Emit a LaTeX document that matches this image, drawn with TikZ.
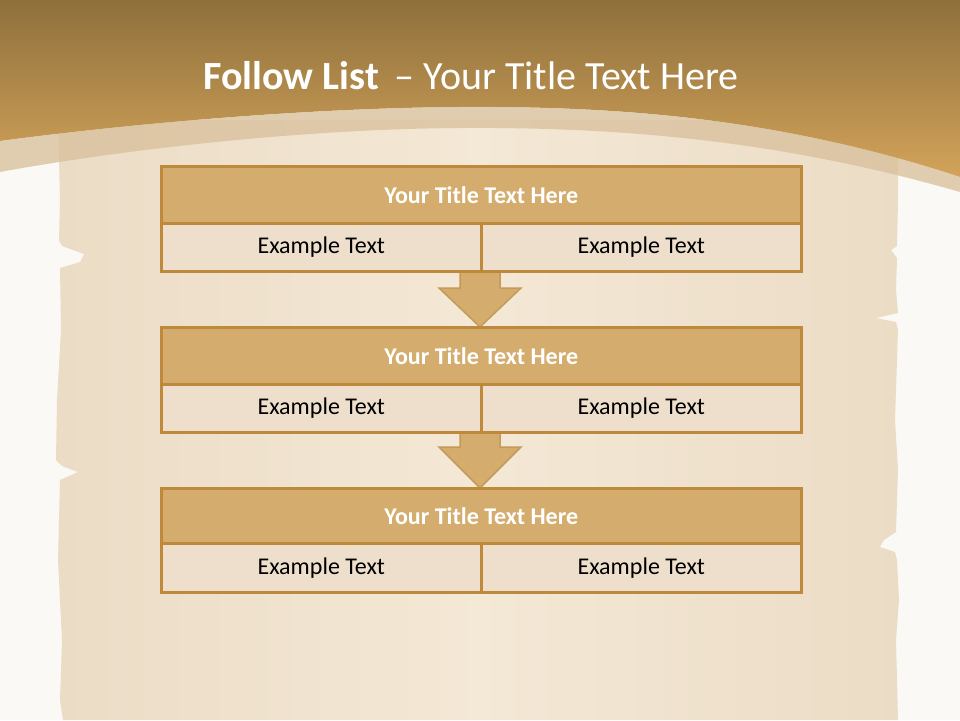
\documentclass[tikz,border=0pt]{standalone}
\usepackage{fontspec}
\setmainfont{Carlito}
\definecolor{bgw}{HTML}{FBF9F5}
\definecolor{parL}{HTML}{EBDCC5}
\definecolor{parM}{HTML}{F4E8D6}
\definecolor{goldT}{HTML}{8E703C}
\definecolor{goldB}{HTML}{D3A35A}
\definecolor{bandc}{HTML}{D8BF9A}
\definecolor{ttlfill}{HTML}{D4AD6E}
\definecolor{subfill}{HTML}{EEDFCD}
\definecolor{bordc}{HTML}{BF893C}
\definecolor{arrowline}{HTML}{C49A56}
\tikzset{
  ttlbox/.style={draw=bordc,line width=2.6pt,fill=ttlfill,minimum width=640pt,minimum height=57pt,inner sep=0pt,anchor=north west,text=white,font=\fontsize{24}{28}\selectfont\bfseries},
  subbox/.style={draw=bordc,line width=2.6pt,fill=subfill,minimum width=320pt,minimum height=48pt,inner sep=0pt,anchor=north west,text=black,font=\fontsize{24}{28}\selectfont},
  downarrow/.style={fill=ttlfill,draw=arrowline,line width=1.5pt,line join=miter}
}
\begin{document}
\begin{tikzpicture}[x=1pt,y=-1pt]
\useasboundingbox (0,0) rectangle (960,720);
\fill[bgw] (0,0) rectangle (960,720);
% parchment
\shade[left color=parL,right color=parL,middle color=parM]
  (58,120) -- (60,200) -- (59,240) -- (62,246) -- (84,254) -- (80,262) -- (60,268)
  -- (61,330) -- (57,400) -- (56,460) -- (62,466) -- (78,472) -- (60,480)
  -- (58,560) -- (62,640) -- (60,700) -- (63,720)
  -- (898,720) -- (896,640) -- (899,600) -- (897,560) -- (895,552) -- (880,547) -- (884,540) -- (896,532)
  -- (898,470) -- (895,420) -- (898,330) -- (896,322) -- (876,318) -- (898,313)
  -- (896,290) -- (897,258) -- (891,250) -- (897,246) -- (898,200) -- (898,120) -- cycle;
% header
\shade[top color=goldT,bottom color=goldB]
  (0,0) -- (960,0) -- (960,177) .. controls (780,118) and (620,106) .. (460,107)
  .. controls (300,108) and (120,125) .. (0,141) -- cycle;
% translucent band
\fill[bandc,opacity=0.75]
  (0,141) .. controls (120,125) and (300,108) .. (460,107)
  .. controls (620,106) and (780,118) .. (960,177) -- (960,192)
  .. controls (780,140) and (620,127) .. (460,128)
  .. controls (300,129) and (120,150) .. (0,172) -- cycle;
% title
\node[text=white,font=\fontsize{40}{46}\selectfont,anchor=base] (title) at (471,89)
  {\textbf{Follow List}\, – Your Title Text Here};
% arrows (behind boxes)
\draw[downarrow] (460,268) -- (500,268) -- (500,288) -- (521,288) -- (480,327) -- (439,288) -- (460,288) -- cycle;
\draw[downarrow] (460,429) -- (500,429) -- (500,447) -- (521,447) -- (480,488) -- (439,447) -- (460,447) -- cycle;
% boxes
\node[ttlbox] (t1) at (160,165) {Your Title Text Here};
\node[subbox] (s1a) at (160,222) {Example Text};
\node[subbox] (s1b) at (480,222) {Example Text};
\node[ttlbox] (t2) at (160,326) {Your Title Text Here};
\node[subbox] (s2a) at (160,383) {Example Text};
\node[subbox] (s2b) at (480,383) {Example Text};
\node[ttlbox,minimum height=55pt] (t3) at (160,487) {Your Title Text Here};
\node[subbox,minimum height=49pt] (s3a) at (160,542) {Example Text};
\node[subbox,minimum height=49pt] (s3b) at (480,542) {Example Text};
\end{tikzpicture}
\end{document}
